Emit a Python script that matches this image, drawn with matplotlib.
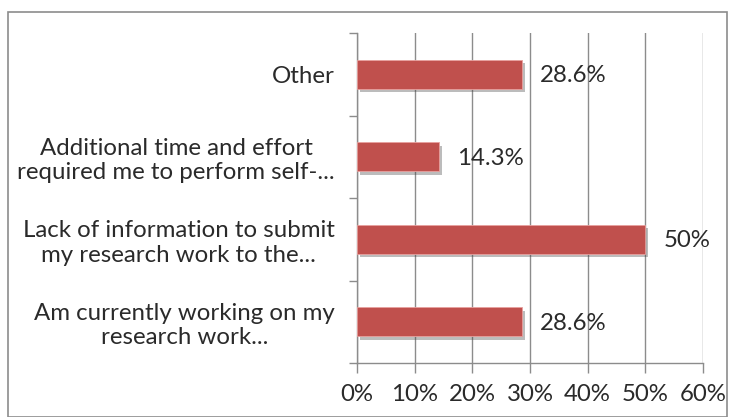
import matplotlib
matplotlib.use("Agg")
import matplotlib.pyplot as plt
import matplotlib.patheffects as pe
from matplotlib.patches import Rectangle
from matplotlib.ticker import FixedLocator, PercentFormatter

plt.rcParams['font.family'] = ['Lato', 'DejaVu Sans']

categories = [
    "Am currently working on my\nresearch work...",
    "Lack of information to submit\nmy research work to the...",
    "Additional time and effort\nrequired me to perform self-...",
    "Other",
]
values = [28.6, 50.0, 14.3, 28.6]
value_labels = ["28.6%", "50%", "14.3%", "28.6%"]
x_ticks = [0, 10, 20, 30, 40, 50, 60]

BAR = "#C0504D"
GRID = "#8c8c8c"
TEXT = "#2a2a2a"
FS = 17.3

W, H = 729, 417
fig = plt.figure(figsize=(W / 100, H / 100), dpi=100)
fig.patch.set_facecolor("white")

# outer chart frame
fig.patches.append(Rectangle((8 / W, 0), (727 - 8) / W, (H - 12) / H,
                             transform=fig.transFigure, fill=False,
                             edgecolor=GRID, linewidth=1.2))

ax = fig.add_axes([357 / W, 1 - 363 / H, (703 - 357) / W, (363 - 33) / H])

ypos = list(range(len(categories)))
bars = ax.barh(ypos, values, height=0.355, color=BAR, zorder=3,
               edgecolor="#e8a09e", linewidth=0.6)
for b in bars:
    b.set_path_effects([pe.SimplePatchShadow(offset=(2, -2.5), alpha=0.35,
                                             shadow_rgbFace="#404040"),
                        pe.Normal()])

for y, v, lab in zip(ypos, values, value_labels):
    ax.annotate(lab, (v, y), xytext=(13, -1), textcoords="offset points",
                va="center", ha="left", fontsize=FS, color=TEXT, zorder=4)

ax.set_xlim(0, 60)
ax.set_ylim(-0.5, len(categories) - 0.5)

ax.xaxis.set_major_locator(FixedLocator(x_ticks))
ax.xaxis.set_major_formatter(PercentFormatter(decimals=0))
ax.grid(axis="x", color=GRID, linewidth=1.0, zorder=0)
ax.set_axisbelow(True)

ax.set_yticks(ypos)
ax.set_yticklabels(categories)
ax.set_yticks([y - 0.5 for y in ypos] + [len(ypos) - 0.5], minor=True)
ax.tick_params(axis="y", which="major", length=0, pad=16, labelsize=FS,
               labelcolor=TEXT)
ax.tick_params(axis="y", which="minor", length=6, width=1.0, color=GRID,
               direction="out")
ax.tick_params(axis="x", which="major", length=7, width=1.0, color=GRID,
               direction="out", pad=8, labelsize=FS, labelcolor=TEXT)
for t in ax.get_yticklabels():
    t.set_multialignment("center")
    t.set_linespacing(1.2)

for side in ("top", "right"):
    ax.spines[side].set_visible(False)
for side in ("left", "bottom"):
    ax.spines[side].set_color(GRID)
    ax.spines[side].set_linewidth(1.0)

fig.savefig("out.png", dpi=100, facecolor="white")
